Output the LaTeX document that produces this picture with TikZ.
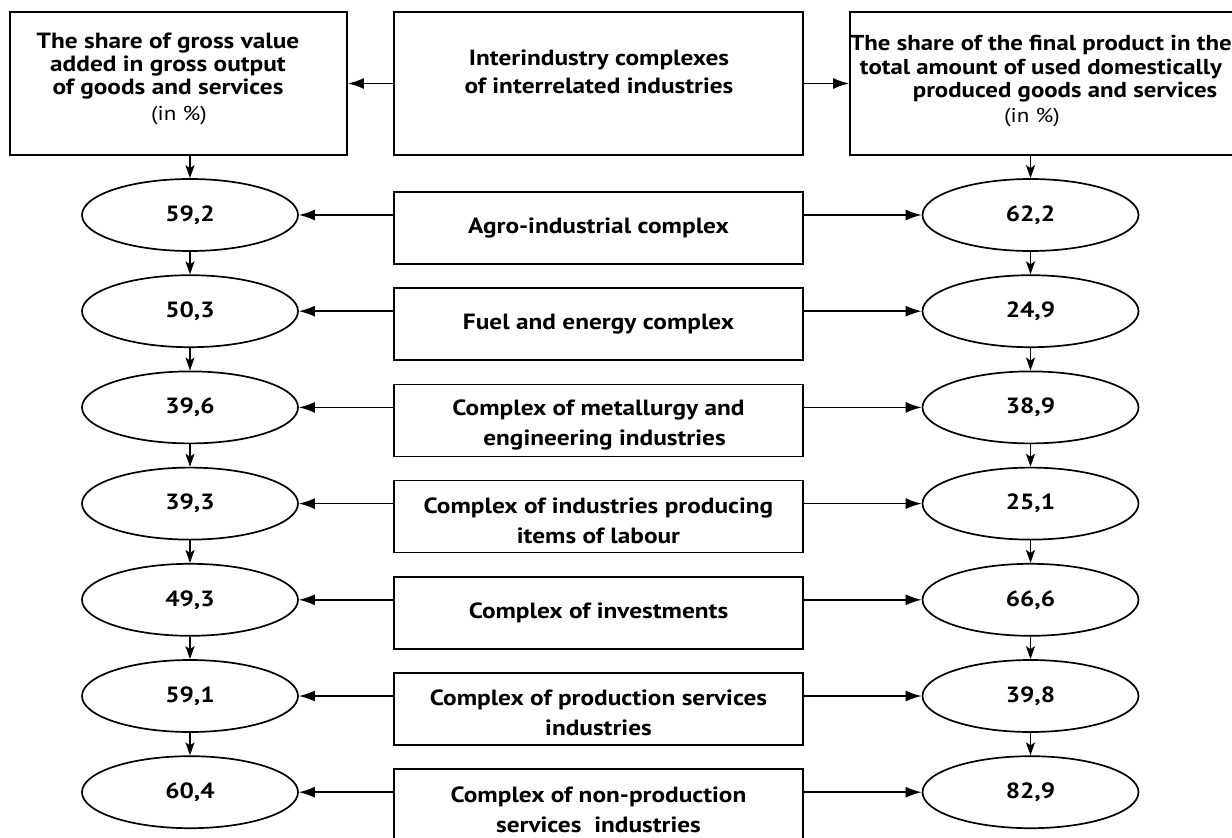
\documentclass[tikz,border=0pt]{standalone}
\usepackage{fontspec}
\setmainfont[FakeStretch=1.15]{PT Sans}
\usetikzlibrary{arrows.meta,shapes.geometric}
\newcommand\lowtxt{\rule{0pt}{24pt}}
\begin{document}
\begin{tikzpicture}[x=1pt,y=-1pt,
  topbox/.style={draw,line width=1.7pt,inner sep=0pt,minimum height=143pt},
  cbox/.style={draw,line width=1.7pt,minimum width=409pt,minimum height=72pt,inner sep=0pt,align=center,font=\bfseries\fontsize{22}{30}\selectfont},
  val/.style={draw,ellipse,line width=1.7pt,minimum width=216pt,minimum height=72pt,inner sep=0pt,font=\bfseries\fontsize{22}{26}\selectfont},
  harr/.style={line width=1.6pt,-{Latex[length=16pt,width=11pt]}},
  varr/.style={line width=1.6pt,-{Stealth[length=13pt,width=9pt,inset=3pt]}},
  ttl/.style={align=center,inner sep=0pt,font=\bfseries\fontsize{22}{23}\selectfont},
  unit/.style={inner sep=0pt,anchor=base,font=\fontsize{20}{24}\selectfont}]
\clip (0,0) rectangle (1232,838);
\fill[white] (0,0) rectangle (1232,838);
% top row
\node[topbox,minimum width=337pt] (L) at (178.5,83.5) {};
\node[topbox,minimum width=409pt] (M) at (598.5,83.5) {};
\node[topbox,minimum width=450pt] (R) at (1075,83.5) {};
\node[ttl] (Lt) at (168,66) {The share of gross value\\added in gross output\\of goods and services};
\node[unit] (Lu) at (179,120) {(in \%)};
\node[ttl,font=\bfseries\fontsize{22}{28}\selectfont] (Mt) at (599,72) {Interindustry complexes\\of interrelated industries};
\node[ttl,font=\bfseries\fontsize{21.6}{23.5}\selectfont] (Rt) at (1041,69) {The share of the final product in the\\total amount of used domestically\\\hspace*{48pt}produced goods and services};
\node[unit] (Ru) at (1032,122) {(in \%)};
\draw[harr] (M.west) -- (L.east);
\draw[harr] (M.east) -- (R.west);
% rows
\foreach \i/\t/\a/\b in {
  1/{Agro-industrial complex}/{59,2}/{62,2},
  2/{Fuel and energy complex}/{50,3}/{24,9},
  3/{\lowtxt Complex of metallurgy and\\\hspace*{12pt}engineering industries}/{39,6}/{38,9},
  4/{\lowtxt Complex of industries producing\\items of labour}/{39,3}/{25,1},
  5/{Complex of investments}/{49,3}/{66,6},
  6/{\lowtxt Complex of production services\\industries}/{59,1}/{39,8},
  7/{\lowtxt Complex of non-production\\services\ \ industries}/{60,4}/{82,9}}{
  \pgfmathsetmacro\yy{215+96.2*(\i-1)}
  \node[val] (l\i) at (190,\yy) {\a};
  \node[val] (r\i) at (1030.5,\yy) {\b};
  \node[cbox] (m\i) at (598.5,\yy+13) {\t};
  \draw[harr] (m\i.west |- l\i) -- (l\i.east);
  \draw[harr] (m\i.east |- r\i) -- (r\i.west);
}
\draw[varr] (l1.north |- L.south) -- (l1.north);
\draw[varr] (r1.north |- R.south) -- (r1.north);
\foreach \i [count=\j from 2] in {1,...,6}{
  \draw[varr] (l\i.south) -- (l\j.north);
  \draw[varr] (r\i.south) -- (r\j.north);
}
\end{tikzpicture}
\end{document}
